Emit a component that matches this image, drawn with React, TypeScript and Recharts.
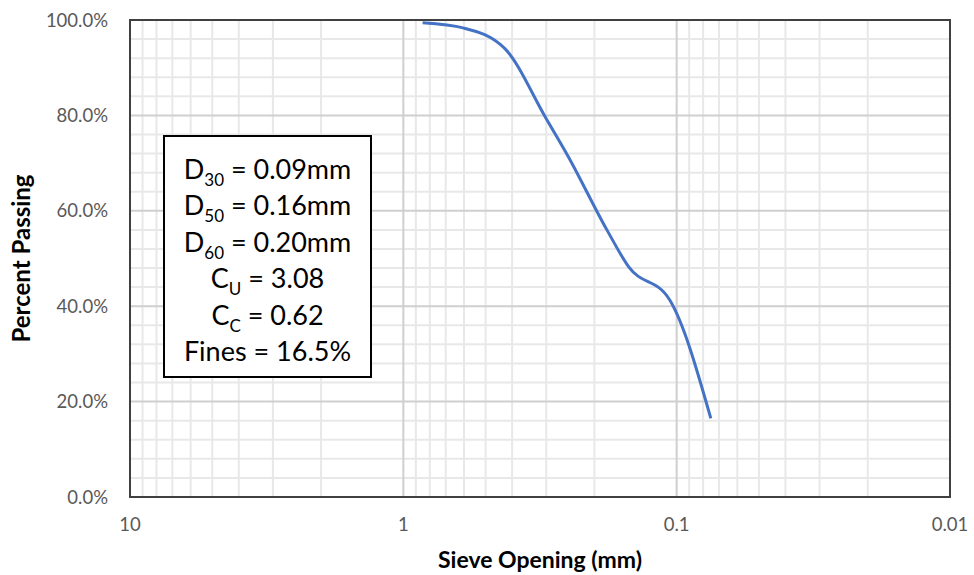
import React from "react";
import {
  LineChart,
  Line,
  XAxis,
  YAxis,
  CartesianGrid,
  ReferenceArea,
} from "recharts";

// sieve analysis: opening (mm) vs percent passing
const sieveSize = [0.85, 0.6, 0.425, 0.3, 0.25, 0.18, 0.15, 0.106, 0.075];
const percentPassing = [99.4, 98.3, 94.0, 79.3, 71.5, 56.0, 48.3, 41.3, 16.5];

const xTicks = [10, 1, 0.1, 0.01];
const yTicks = [0, 20, 40, 60, 80, 100];

// log-cycle gridlines
const minorX = [
  9, 8, 7, 6, 5, 4, 3, 2,
  0.9, 0.8, 0.7, 0.6, 0.5, 0.4, 0.3, 0.2,
  0.09, 0.08, 0.07, 0.06, 0.05, 0.04, 0.03, 0.02,
];
const majorX = [1, 0.1];
const minorY = [4, 8, 12, 16, 24, 28, 32, 36, 44, 48, 52, 56, 64, 68, 72, 76, 84, 88, 92, 96];
const majorY = [20, 40, 60, 80];

const stats = [
  { sym: "D", sub: "30", text: " = 0.09mm" },
  { sym: "D", sub: "50", text: " = 0.16mm" },
  { sym: "D", sub: "60", text: " = 0.20mm" },
  { sym: "C", sub: "U", text: " = 3.08" },
  { sym: "C", sub: "C", text: " = 0.62" },
  { sym: "Fines", sub: "", text: " = 16.5%" },
];

const data = sieveSize.map((s, i) => ({ size: s, pct: percentPassing[i] }));

const FONT = "Lato, 'Open Sans', sans-serif";
const tickStyle = { fontSize: 18.5, fill: "#595959", fontFamily: FONT };

const fmtX = (v: number) => String(v);
const fmtY = (v: number) => `${v.toFixed(1)}%`;

// axis scale may be a plain d3 scale or a wrapper with .map()
function toPx(axis: any, v: number): number {
  const sc = axis?.scale;
  if (typeof sc === "function") return sc(v);
  if (sc && typeof sc.map === "function") return sc.map(v);
  return NaN;
}

const xGen = (vals: number[]) => (p: any) => {
  const out = vals.map((v) => toPx(p.xAxis, v));
  if (out.every((n) => Number.isFinite(n))) return out;
  const { left, width } = p.offset;
  return vals.map((v) => left + (width * (1 - Math.log10(v))) / 3);
};
const yGen = (vals: number[]) => (p: any) => {
  const out = vals.map((v) => toPx(p.yAxis, v));
  if (out.every((n) => Number.isFinite(n))) return out;
  const { top, height } = p.offset;
  return vals.map((v) => top + height * (1 - v / 100));
};

export default function App() {
  return (
    <div style={{ position: "absolute", left: 0, top: 0, width: 974, height: 575, background: "#fff" }}>
      <LineChart
        width={974}
        height={575}
        data={data}
        margin={{ top: 20, right: 24, bottom: 0, left: 0 }}
      >
        <CartesianGrid
          stroke="#e8e8e8"
          strokeWidth={2}
          verticalCoordinatesGenerator={xGen(minorX)}
          horizontalCoordinatesGenerator={yGen(minorY)}
        />
        <CartesianGrid
          stroke="#cfcfcf"
          strokeWidth={2}
          verticalCoordinatesGenerator={xGen(majorX)}
          horizontalCoordinatesGenerator={yGen(majorY)}
        />
        <XAxis
          dataKey="size"
          type="number"
          scale="log"
          domain={[0.01, 10]}
          reversed
          allowDataOverflow
          ticks={xTicks}
          tickFormatter={fmtX}
          tick={tickStyle}
          tickLine={false}
          tickSize={0}
          tickMargin={21}
          axisLine={{ stroke: "#404040", strokeWidth: 2 }}
          height={78}
          label={{
            value: "Sieve Opening (mm)",
            position: "insideBottom",
            offset: 7,
            style: { fontSize: 23, fontWeight: 700, fill: "#000", fontFamily: FONT },
          }}
        />
        <YAxis
          type="number"
          domain={[0, 100]}
          ticks={yTicks}
          tickFormatter={fmtY}
          tick={tickStyle}
          tickLine={false}
          tickSize={0}
          tickMargin={22}
          axisLine={{ stroke: "#404040", strokeWidth: 2 }}
          width={130}
          label={{
            value: "Percent Passing",
            angle: -90,
            position: "center",
            dx: -44,
            style: { fontSize: 24, fontWeight: 700, fill: "#000", fontFamily: FONT, textAnchor: "middle" },
          }}
        />
        <ReferenceArea
          x1={10}
          x2={0.01}
          y1={0}
          y2={100}
          fill="none"
          stroke="#404040"
          strokeWidth={2}
          ifOverflow="visible"
        />
        <Line
          type="monotone"
          dataKey="pct"
          stroke="#4472C4"
          strokeWidth={3}
          dot={false}
          isAnimationActive={false}
        />
      </LineChart>
      <div
        style={{
          position: "absolute",
          left: 163,
          top: 135,
          width: 205,
          height: 239,
          border: "2px solid #000",
          background: "#fff",
          boxSizing: "content-box",
          fontFamily: FONT,
          fontSize: 27,
          color: "#000",
          textAlign: "center",
        }}
      >
        <div style={{ paddingTop: 14 }}>
          {stats.map((s, i) => (
            <div key={i} style={{ height: 36.4, lineHeight: "36.4px", whiteSpace: "nowrap" }}>
              {s.sym}
              {s.sub && (
                <span style={{ fontSize: 17, position: "relative", top: 7 }}>{s.sub}</span>
              )}
              {s.text}
            </div>
          ))}
        </div>
      </div>
    </div>
  );
}
